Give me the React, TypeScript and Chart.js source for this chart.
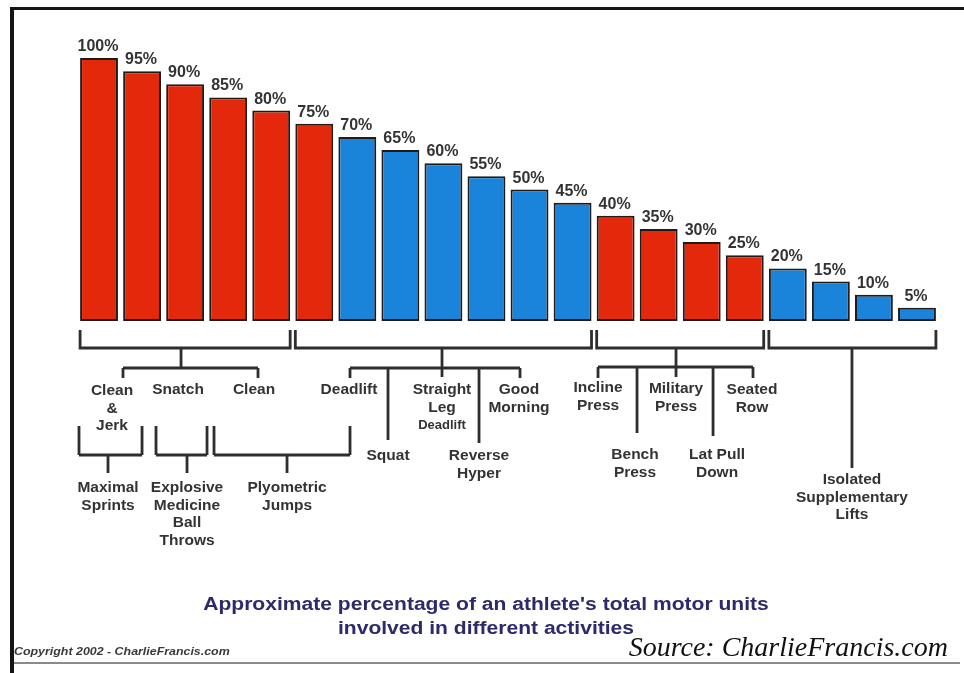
import React, { useEffect, useRef } from 'react';
import { Chart, registerables } from 'chart.js';

Chart.register(...registerables);

// Share of total motor units recruited, one bar per activity level
const percentages = [100, 95, 90, 85, 80, 75, 70, 65, 60, 55, 50, 45, 40, 35, 30, 25, 20, 15, 10, 5];
const percentLabels = percentages.map((v) => `${v}%`);

// Bars grouped under each top-level bracket (first and last bar index)
const groupSpans: [number, number][] = [
  [0, 4],
  [5, 11],
  [12, 15],
  [16, 19],
];

// Bars filled red; the rest are blue
const redRuns: [number, number][] = [
  [0, 5],
  [12, 15],
];

const RED = '#e4280c';
const BLUE = '#1984da';
const INK = '#333333';

// Connector segments: [x1 (category units), dy1, x2, dy2] with dy below the plot bottom
const connectors: [number, number, number, number][] = [
  // top-level stems
  [1.905, 27, 1.905, 47],
  [7.967, 27, 7.967, 56],
  [13.403, 27, 13.403, 56],
  [17.49, 27, 17.49, 147],
  // first group: Clean & Jerk / Snatch / Clean
  [0.557, 47, 3.693, 47],
  [0.557, 47, 0.557, 57],
  [3.693, 47, 3.693, 57],
  // second group
  [5.83, 47, 9.779, 47],
  [5.83, 47, 5.83, 57],
  [9.779, 47, 9.779, 57],
  [6.713, 47, 6.713, 119],
  [8.827, 47, 8.827, 122],
  // third group
  [11.591, 46, 15.191, 46],
  [11.591, 46, 11.591, 57],
  [15.191, 46, 15.191, 57],
  [12.497, 46, 12.497, 112],
  [14.263, 46, 14.263, 115],
  // lower brackets: sprints
  [-0.465, 105, -0.465, 134],
  [0.999, 105, 0.999, 134],
  [-0.465, 134, 0.999, 134],
  [0.209, 134, 0.209, 152],
  // medicine ball throws
  [1.324, 105, 1.324, 134],
  [2.509, 105, 2.509, 134],
  [1.324, 134, 2.509, 134],
  [2.044, 134, 2.044, 152],
  // plyometric jumps
  [2.671, 105, 2.671, 134],
  [5.83, 105, 5.83, 134],
  [2.671, 134, 5.83, 134],
  [4.367, 134, 4.367, 152],
];

// Activity captions: centre (category units), first line dy, lines, small-line indices
const captions: { at: number; dy: number; lines: string[]; small?: number[] }[] = [
  { at: 0.302, dy: 70, lines: ['Clean', '&', 'Jerk'] },
  { at: 1.835, dy: 69, lines: ['Snatch'] },
  { at: 3.6, dy: 69, lines: ['Clean'] },
  { at: 5.807, dy: 69, lines: ['Deadlift'] },
  { at: 7.967, dy: 69, lines: ['Straight', 'Leg', 'Deadlift'], small: [2] },
  { at: 9.756, dy: 69, lines: ['Good', 'Morning'] },
  { at: 6.713, dy: 135, lines: ['Squat'] },
  { at: 8.827, dy: 135, lines: ['Reverse', 'Hyper'] },
  { at: 11.591, dy: 67, lines: ['Incline', 'Press'] },
  { at: 13.403, dy: 68, lines: ['Military', 'Press'] },
  { at: 15.168, dy: 69, lines: ['Seated', 'Row'] },
  { at: 12.45, dy: 134, lines: ['Bench', 'Press'] },
  { at: 14.356, dy: 134, lines: ['Lat Pull', 'Down'] },
  { at: 0.209, dy: 167, lines: ['Maximal', 'Sprints'] },
  { at: 2.044, dy: 167, lines: ['Explosive', 'Medicine', 'Ball', 'Throws'] },
  { at: 4.367, dy: 167, lines: ['Plyometric', 'Jumps'] },
  { at: 17.49, dy: 159, lines: ['Isolated', 'Supplementary', 'Lifts'] },
];

const titleLines = [
  "Approximate percentage of an athlete's total motor units",
  'involved in different activities',
];
const copyrightText = 'Copyright 2002 - CharlieFrancis.com';
const sourceText = 'Source: CharlieFrancis.com';

function isRed(i: number) {
  return redRuns.some(([a, b]) => i >= a && i <= b);
}

function drawStretched(
  ctx: CanvasRenderingContext2D,
  text: string,
  x: number,
  y: number,
  font: string,
  sx: number,
  align: CanvasTextAlign
) {
  ctx.save();
  ctx.translate(x, y);
  ctx.scale(sx, 1);
  ctx.font = font;
  ctx.textAlign = align;
  ctx.fillText(text, 0, 0);
  ctx.restore();
}

const decorPlugin = {
  id: 'decor',
  beforeDraw(chart: Chart) {
    const { ctx, width, height } = chart;
    ctx.save();
    ctx.fillStyle = '#ffffff';
    ctx.fillRect(0, 0, width, height);
    ctx.restore();
  },
  afterDatasetsDraw(chart: Chart) {
    const { ctx, chartArea } = chart;
    const xs = chart.scales.x;
    const x0 = xs.getPixelForValue(0);
    const pitch = xs.getPixelForValue(1) - x0;
    const px = (i: number) => x0 + i * pitch;
    const base = chartArea.bottom;
    const meta = chart.getDatasetMeta(0);

    // value labels above bars
    ctx.save();
    ctx.fillStyle = INK;
    ctx.font = 'bold 16px "Liberation Sans", Arial, sans-serif';
    ctx.textAlign = 'center';
    ctx.textBaseline = 'alphabetic';
    meta.data.forEach((el: any, i: number) => {
      ctx.fillText(percentLabels[i], el.x - 1, el.y - 7);
    });
    ctx.restore();

    ctx.save();
    ctx.strokeStyle = '#2e2e2e';
    ctx.lineWidth = 2.8;
    ctx.lineCap = 'butt';

    // top-level brackets under each group of bars
    const half = (meta.data[0] as any).width / 2;
    groupSpans.forEach(([a, b]) => {
      const l = px(a) - half;
      const r = px(b) + half;
      ctx.beginPath();
      ctx.moveTo(l, base + 9);
      ctx.lineTo(l, base + 27);
      ctx.lineTo(r, base + 27);
      ctx.lineTo(r, base + 9);
      ctx.stroke();
    });

    connectors.forEach(([a, d1, b, d2]) => {
      ctx.beginPath();
      ctx.moveTo(px(a), base + d1);
      ctx.lineTo(px(b), base + d2);
      ctx.stroke();
    });
    ctx.restore();

    // activity captions
    ctx.save();
    ctx.fillStyle = INK;
    ctx.textAlign = 'center';
    ctx.textBaseline = 'middle';
    captions.forEach((c) => {
      c.lines.forEach((line, k) => {
        const small = c.small && c.small.includes(k);
        ctx.font = small
          ? 'bold 13px "Liberation Sans", Arial, sans-serif'
          : 'bold 15.5px "Liberation Sans", Arial, sans-serif';
        ctx.fillText(line, px(c.at), base + c.dy + k * 17.5);
      });
    });
    ctx.restore();

    // frame
    ctx.save();
    ctx.fillStyle = '#151515';
    ctx.fillRect(10, 7, chart.width - 10, 3);
    ctx.fillRect(10, 7, 4, chart.height - 7);
    ctx.fillStyle = '#8a8a8a';
    ctx.fillRect(14, 662, chart.width - 18, 2);
    ctx.restore();

    // caption under the chart
    ctx.save();
    ctx.fillStyle = '#2c2a6a';
    ctx.textBaseline = 'middle';
    titleLines.forEach((t, k) => {
      drawStretched(ctx, t, 486, 605 + k * 24, 'bold 18px "Liberation Sans", Arial, sans-serif', 1.17, 'center');
    });
    ctx.restore();

    ctx.save();
    ctx.fillStyle = '#3a3a3a';
    ctx.textBaseline = 'middle';
    drawStretched(ctx, copyrightText, 14, 652, 'italic bold 10px "Liberation Sans", Arial, sans-serif', 1.24, 'left');
    ctx.restore();

    ctx.save();
    ctx.fillStyle = '#111111';
    ctx.textBaseline = 'alphabetic';
    drawStretched(ctx, sourceText, 948, 656, 'italic 28px "Liberation Serif", "Times New Roman", serif', 1.0, 'right');
    ctx.restore();
  },
};

export default function App() {
  const canvasRef = useRef<HTMLCanvasElement | null>(null);

  useEffect(() => {
    if (!canvasRef.current) return;
    const chart = new Chart(canvasRef.current, {
      type: 'bar',
      data: {
        labels: percentLabels,
        datasets: [
          {
            data: percentages,
            backgroundColor: percentages.map((_, i) => (isRed(i) ? RED : BLUE)),
            borderColor: '#221a17',
            borderWidth: 2,
            borderSkipped: false,
            barPercentage: 0.88,
            categoryPercentage: 1,
          },
        ],
      },
      options: {
        responsive: false,
        animation: false,
        devicePixelRatio: 1,
        layout: { padding: { left: 77.5, right: 25.5, top: 58, bottom: 352 } },
        plugins: {
          legend: { display: false },
          tooltip: { enabled: false },
          title: { display: false },
        },
        scales: {
          x: { display: false, grid: { display: false } },
          y: { display: false, min: 0, max: 100 },
        },
      },
      plugins: [decorPlugin],
    });
    return () => chart.destroy();
  }, []);

  return (
    <div style={{ position: 'absolute', left: 0, top: 0, width: 964, height: 673, background: '#fff' }}>
      <canvas ref={canvasRef} width={964} height={673} />
    </div>
  );
}
